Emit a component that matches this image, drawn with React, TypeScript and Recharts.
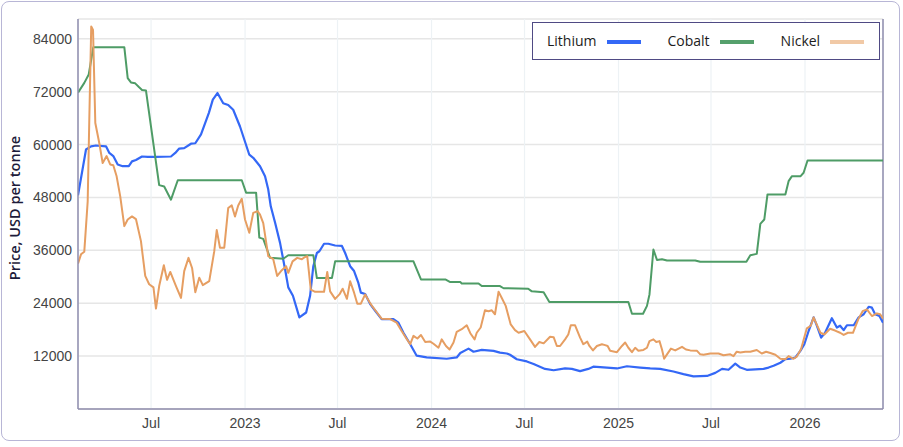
import React from "react";
import { LineChart, Line, XAxis, YAxis, CartesianGrid, Legend, ReferenceLine } from "recharts";

// x positions are weeks since 2022-02-08
const START = Date.UTC(2022, 1, 8);
const WEEK_MS = 7 * 86400000;

const tickDates = ["2022-07-01", "2023-01-01", "2023-07-01", "2024-01-01", "2024-07-01", "2025-01-01", "2025-07-01", "2026-01-01"];
const tickLabels = ["Jul", "2023", "Jul", "2024", "Jul", "2025", "Jul", "2026"];
const yTicks = [12000, 24000, 36000, 48000, 60000, 72000, 84000];

const lithiumWeeks = [0, 2.24, 3.64, 5.03, 7.83, 8.76, 9.87, 11.1, 12.5, 14.2, 15.1, 16.2, 17.9, 19.5, 21.8, 26.0, 27.2, 28.3, 29.7, 31.6, 32.8, 34.4, 36.6, 37.7, 39.0, 40.6, 42.0, 43.4, 45.3, 47.9, 49.0, 50.9, 52.3, 53.2, 53.9, 55.1, 56.5, 57.9, 58.8, 60.1, 61.9, 63.8, 64.9, 65.8, 66.8, 67.5, 68.8, 70.0, 71.9, 73.8, 74.7, 76.1, 77.2, 78.4, 79.1, 80.3, 81.7, 83.1, 84.9, 88.2, 89.6, 91.0, 92.9, 94.7, 97.5, 103.1, 105.9, 106.9, 109.2, 110.6, 112.9, 116.2, 118.0, 119.9, 120.8, 122.7, 125.5, 127.4, 130.6, 133.0, 136.2, 138.1, 140.4, 142.7, 144.1, 147.9, 150.7, 153.5, 157.2, 160.0, 162.8, 166.5, 169.3, 172.1, 175.9, 178.2, 180.1, 181.9, 183.8, 185.2, 187.0, 191.7, 193.1, 194.5, 196.4, 197.8, 199.2, 200.6, 202.0, 203.1, 204.3, 205.7, 206.6, 207.8, 208.9, 210.8, 212.2, 213.1, 214.1, 215.0, 216.9, 218.3, 219.7, 221.1, 222.0, 222.9, 224.1, 225.1];
const lithiumPrices = [48500, 58900, 59600, 59800, 59600, 58100, 57400, 55500, 55100, 55100, 56200, 56500, 57300, 57200, 57200, 57300, 58100, 59100, 59200, 60200, 60300, 62300, 67200, 70200, 71700, 69400, 69000, 67900, 64100, 57700, 57000, 55100, 52800, 49800, 46000, 42300, 37700, 31700, 27600, 25700, 20800, 21900, 25700, 32400, 35400, 35800, 37500, 37500, 37100, 37000, 35400, 32400, 31300, 28600, 26400, 26100, 23800, 22300, 20400, 20400, 19600, 17300, 14700, 12100, 11700, 11400, 11700, 12700, 13700, 13000, 13400, 13200, 12800, 12600, 12300, 11300, 10800, 10200, 9100, 8800, 9200, 9100, 8600, 9100, 9600, 9400, 9200, 9700, 9400, 9200, 9100, 8500, 7900, 7400, 7500, 8200, 9100, 8900, 10300, 9400, 8900, 9100, 9400, 9800, 10500, 11300, 11400, 11700, 13200, 14700, 17700, 20800, 18900, 16200, 17300, 20600, 18500, 18900, 17900, 19000, 19000, 20800, 21500, 23200, 23000, 21500, 21100, 19600];

const cobaltWeeks = [0, 1.76, 3.0, 4.28, 12.95, 13.9, 14.8, 16.0, 17.1, 17.9, 19.0, 22.7, 24.1, 26.0, 27.9, 45.8, 47.0, 49.8, 50.7, 51.8, 53.7, 57.4, 58.8, 65.8, 66.8, 71.0, 71.9, 93.8, 95.9, 102.7, 104.1, 106.9, 107.3, 112.0, 112.9, 118.0, 119.0, 125.9, 126.9, 130.2, 131.8, 153.9, 154.9, 158.0, 159.1, 159.8, 160.9, 161.9, 163.3, 164.7, 172.6, 174.0, 186.9, 188.0, 189.8, 190.8, 191.9, 192.8, 197.8, 198.7, 199.6, 202.0, 202.9, 204.0, 225.1];
const cobaltPrices = [71800, 74000, 75900, 82100, 82100, 75100, 74100, 73900, 73000, 72400, 72300, 50800, 50500, 47500, 51900, 51900, 49100, 49100, 38900, 38600, 34300, 34100, 34900, 34900, 29700, 29700, 33500, 33500, 29400, 29400, 28800, 28800, 28500, 28500, 27900, 27900, 27400, 27300, 26700, 26500, 24300, 24300, 21600, 21600, 23400, 26000, 36200, 33800, 34000, 33700, 33700, 33400, 33400, 34900, 35200, 42000, 43000, 48700, 48700, 51700, 52800, 52800, 53600, 56400, 56400];

const nickelWeeks = [0, 0.84, 1.76, 2.71, 3.16, 3.7, 4.2, 4.84, 5.96, 6.9, 8.0, 9.0, 9.87, 10.8, 11.8, 12.95, 13.9, 15.1, 16.2, 17.6, 18.8, 19.9, 21.1, 21.8, 22.7, 24.0, 24.9, 25.8, 27.4, 28.8, 29.7, 30.9, 31.9, 32.8, 33.9, 34.9, 36.7, 38.1, 38.8, 39.7, 40.9, 42.0, 43.0, 43.9, 44.8, 45.8, 46.7, 47.9, 49.0, 50.2, 50.9, 51.8, 53.2, 54.6, 55.7, 57.0, 58.2, 58.8, 60.0, 61.3, 62.6, 63.5, 64.1, 65.1, 66.3, 68.8, 69.7, 70.5, 71.9, 73.1, 74.0, 75.2, 76.1, 77.2, 78.1, 79.1, 80.3, 81.5, 82.2, 83.6, 84.9, 87.3, 89.1, 90.5, 91.9, 92.9, 93.8, 94.9, 95.9, 97.1, 98.5, 99.4, 100.8, 101.7, 102.9, 103.9, 105.0, 105.9, 107.3, 108.7, 109.7, 110.9, 111.5, 112.6, 113.8, 114.8, 115.7, 116.6, 117.6, 118.5, 119.6, 121.0, 122.2, 123.2, 124.8, 126.4, 127.8, 129.0, 130.2, 132.0, 133.0, 133.9, 134.8, 136.2, 137.1, 137.8, 139.0, 140.4, 141.3, 142.4, 143.0, 144.0, 145.1, 146.5, 147.4, 148.1, 148.8, 150.7, 152.1, 153.0, 153.9, 154.9, 155.8, 156.7, 158.1, 159.1, 159.8, 160.9, 161.7, 162.6, 163.3, 163.9, 164.7, 165.8, 167.0, 168.9, 170.0, 171.2, 173.1, 174.0, 174.9, 176.8, 179.1, 180.5, 182.4, 183.3, 184.2, 185.2, 186.6, 188.0, 189.8, 191.2, 192.4, 193.6, 195.0, 196.4, 197.8, 198.7, 200.1, 201.0, 202.2, 203.8, 204.9, 205.7, 206.4, 207.6, 208.7, 210.3, 211.7, 213.1, 214.1, 215.3, 216.7, 218.2, 219.4, 220.6, 222.0, 223.4, 224.3, 225.1];
const nickelPrices = [33000, 35100, 35700, 47100, 65700, 86800, 86000, 64900, 60300, 55800, 57400, 55500, 55300, 52800, 48300, 41500, 43000, 43700, 43100, 38100, 30200, 28300, 27600, 22800, 27900, 32600, 29300, 31100, 27900, 25200, 31300, 34300, 32000, 26500, 29800, 28100, 29000, 35800, 40600, 36600, 36600, 45600, 46200, 43700, 46200, 47700, 43000, 40000, 44500, 44900, 44100, 42200, 34700, 34000, 30200, 31500, 32400, 30900, 33500, 34300, 34000, 34500, 34700, 27100, 26600, 26600, 31100, 26700, 25000, 26000, 27300, 25000, 29000, 26400, 23900, 23900, 26000, 24300, 23400, 21900, 20500, 20400, 19600, 17700, 15900, 14700, 16600, 16000, 16800, 15200, 15300, 14800, 13900, 15800, 14300, 13500, 15100, 17500, 18100, 19000, 17200, 15800, 17300, 18500, 22400, 22200, 22400, 21500, 26600, 25200, 23400, 19200, 17900, 17300, 17700, 15800, 14100, 15200, 14900, 16400, 16300, 14300, 14300, 15800, 16900, 19000, 19000, 16200, 14700, 15300, 14300, 13300, 14300, 14700, 14500, 14300, 13200, 12900, 14300, 15100, 13900, 12900, 13900, 13200, 13400, 13900, 15400, 15800, 15200, 15400, 13500, 11400, 12400, 13700, 13300, 14100, 13500, 13300, 13200, 12400, 12300, 12600, 12600, 12200, 12400, 12000, 13000, 12800, 13000, 13000, 13400, 12600, 13000, 12700, 12300, 11400, 11300, 12000, 11400, 11900, 13600, 18300, 18900, 20800, 19500, 17300, 16900, 18200, 17800, 17300, 16800, 17300, 17300, 20400, 22200, 22600, 21100, 21700, 21500, 20500];

const seriesNames = ["Lithium", "Cobalt", "Nickel"];
const seriesColors = ["#3468f6", "#4e9c66", "#e69e62"];
const legendColors = ["#3468f6", "#55a06c", "#f1c9a6"];

const toData = (weeks: number[], prices: number[]) => weeks.map((w, i) => ({ w, v: prices[i] }));
const lithiumData = toData(lithiumWeeks, lithiumPrices);
const cobaltData = toData(cobaltWeeks, cobaltPrices);
const nickelData = toData(nickelWeeks, nickelPrices);

const toWeek = (iso: string) => (Date.parse(iso) - START) / WEEK_MS;
const xTicks = tickDates.map(toWeek);
const lastWeek = Math.max(...lithiumWeeks, ...cobaltWeeks, ...nickelWeeks);

const renderLegend = () => (
  <div
    style={{
      boxSizing: "border-box",
      width: 348,
      height: 38,
      border: "1px solid #4f4a84",
      background: "#fff",
      display: "flex",
      alignItems: "center",
      paddingLeft: 14,
      fontFamily: "'Open Sans', sans-serif",
      fontSize: 14,
      color: "#1c1c1c",
    }}
  >
    {seriesNames.map((name, i) => (
      <div key={name} style={{ display: "flex", alignItems: "center", marginRight: i < 2 ? 27 : 0 }}>
        <span style={{ lineHeight: "20px" }}>{name}</span>
        <span style={{ display: "inline-block", width: 34, height: 4, background: legendColors[i], marginLeft: 10, marginTop: 2 }} />
      </div>
    ))}
  </div>
);

const tickFmt = (v: number) => {
  const idx = xTicks.findIndex((t) => Math.abs(t - v) < 1e-6);
  return idx >= 0 ? tickLabels[idx] : "";
};

export default function App() {
  return (
    <div style={{ position: "absolute", left: 0, top: 0, width: 903, height: 447, background: "#fff" }}>
      <div
        style={{
          position: "absolute",
          left: 1,
          top: 1,
          width: 899,
          height: 440,
          boxSizing: "border-box",
          border: "1.5px solid #b8b6d6",
          borderRadius: 8,
        }}
      />
      <div style={{ position: "absolute", left: 0, top: 0 }}>
        <LineChart width={903} height={447} margin={{ top: 19, right: 20, bottom: 8, left: 0 }}>
          <CartesianGrid vertical={false} stroke="#e6e6e6" strokeWidth={1.5} />
          <CartesianGrid horizontal={false} stroke="#edf2f5" strokeWidth={1.2} />
          <XAxis
            type="number"
            dataKey="w"
            domain={[0, lastWeek]}
            ticks={xTicks}
            tickFormatter={tickFmt}
            allowDataOverflow
            tickLine={false}
            tickSize={0}
            tickMargin={9}
            height={30}
            axisLine={{ stroke: "#8f8cad", strokeWidth: 1.5 }}
            tick={{ fontFamily: "'Liberation Sans', Arial, sans-serif", fontSize: 14, fill: "#444" }}
          />
          <YAxis
            type="number"
            domain={[0, 88500]}
            ticks={yTicks}
            allowDataOverflow
            width={78}
            tickLine={false}
            tickSize={0}
            tickMargin={6}
            axisLine={{ stroke: "#8f8cad", strokeWidth: 1.5 }}
            tick={{ fontFamily: "'Liberation Sans', Arial, sans-serif", fontSize: 14, fill: "#444" }}
            label={{
              content: () => (
                <text
                  x={14}
                  y={208}
                  transform="rotate(-90 14 208)"
                  textAnchor="middle"
                  dominantBaseline="central"
                  style={{ fontFamily: "'Open Sans', sans-serif", fontSize: 14.5, fontWeight: 600, fill: "#1d1b3a" }}
                >
                  Price, USD per tonne
                </text>
              ),
            }}
          />
          <ReferenceLine x={lastWeek} stroke="#8f8cad" strokeWidth={1.5} ifOverflow="extendDomain" />
          <Line data={lithiumData} dataKey="v" name={seriesNames[0]} type="linear" stroke={seriesColors[0]} strokeWidth={2.2} dot={false} isAnimationActive={false} strokeLinejoin="round" />
          <Line data={cobaltData} dataKey="v" name={seriesNames[1]} type="linear" stroke={seriesColors[1]} strokeWidth={2} dot={false} isAnimationActive={false} strokeLinejoin="round" />
          <Line data={nickelData} dataKey="v" name={seriesNames[2]} type="linear" stroke={seriesColors[2]} strokeWidth={2} dot={false} isAnimationActive={false} strokeLinejoin="round" />
          <Legend
            layout="horizontal"
            verticalAlign="middle"
            align="center"
            content={renderLegend}
            wrapperStyle={{ position: "absolute", left: 532, top: 22, width: 348, height: 38 }}
          />
        </LineChart>
      </div>
    </div>
  );
}
